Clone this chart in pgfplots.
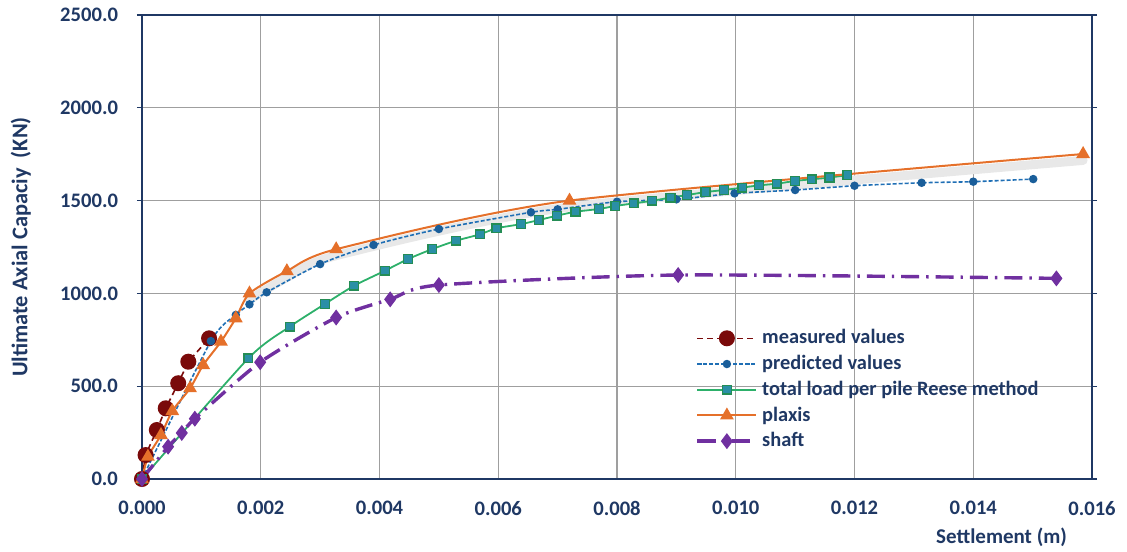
\documentclass[border=0pt]{standalone}
\usepackage{fontspec}
\setmainfont{Carlito}
\usepackage{pgfplots}
\pgfplotsset{compat=1.18}
\definecolor{navy}{HTML}{1F3864}
\definecolor{meas}{HTML}{7A0A0A}
\definecolor{pred}{HTML}{1F6FB5}
\definecolor{reese}{HTML}{2DB06A}
\definecolor{reesefill}{HTML}{2A8FA6}
\definecolor{plaxis}{HTML}{E5702A}
\definecolor{shaft}{HTML}{7030A0}
\begin{document}
\begin{tikzpicture}
\useasboundingbox (-71pt,-36pt) rectangle (492.5pt,239.5pt);
\begin{axis}[
  at={(0,0)}, anchor=south west,
  scale only axis, width=475pt, height=232pt,
  xmin=0, xmax=0.016, ymin=0, ymax=2500,
  xtick={0,0.002,...,0.016}, ytick={0,500,...,2500},
  scaled x ticks=false,
  xticklabel style={/pgf/number format/fixed, /pgf/number format/fixed zerofill, /pgf/number format/precision=3, /pgf/number format/assume math mode=true, yshift=-5pt},
  yticklabel style={/pgf/number format/fixed, /pgf/number format/fixed zerofill, /pgf/number format/precision=1, /pgf/number format/1000 sep={}, /pgf/number format/assume math mode=true, xshift=-6pt},
  tick label style={font=\bfseries\fontsize{10.3}{12}\selectfont, text=navy},
  grid=major, major grid style={draw=gray!75, line width=0.6pt},
  axis line style={draw=navy, line width=0.8pt},
  tick align=outside, major tick length=2.5pt,
  xtick style={draw=none}, ytick style={draw=navy, line width=0.6pt},
  xlabel={Settlement (m)}, ylabel={Ultimate Axial Capaciy\ \ (KN)},
  label style={font=\bfseries\fontsize{10.5}{12}\selectfont, text=navy},
  xlabel style={at={(rel axis cs:1,0)}, anchor=north east, yshift=-21pt, xshift=-9pt},
  ylabel style={at={(rel axis cs:0,0.5)}, yshift=52pt, anchor=south, font=\bfseries\fontsize{11.2}{13}\selectfont},
  legend style={at={(rel axis cs:0.576,0.34)}, anchor=north west, draw=none, fill=none,
    font=\bfseries\fontsize{10.2}{12}\selectfont, text=navy, row sep=0.2pt,
    /tikz/every even column/.append style={column sep=2pt}},
  legend cell align=left,
  legend image code/.code={
    \draw[mark repeat=2,mark phase=2] plot coordinates {(0cm,0cm) (0.52cm,0cm) (1.04cm,0cm)};},
]
\addplot[black!9, line width=4.5pt, yshift=-3.2pt, smooth, tension=0.4, forget plot, line cap=round]
 coordinates {(0.00181,1000) (0.00244,1120) (0.00327,1238) (0.0072,1500) (0.01585,1751)};
\addplot[meas, line width=0.8pt, dash pattern=on 3pt off 2pt, mark=*, mark size=3.6pt,
  mark options={solid, fill=meas, draw=meas}]
 coordinates {(0,0) (0.00006,129) (0.00025,264) (0.0004,381) (0.00061,516) (0.00078,632) (0.00113,758)};
\addlegendentry{measured values}
\addplot[pred, line width=0.8pt, dash pattern=on 2pt off 1pt, smooth, tension=0.4, mark=*, mark size=1.7pt,
  mark options={solid, fill=pred!85!black, draw=pred!85!black}]
 coordinates {(0,0) (0.00116,743) (0.00158,884) (0.00181,941) (0.0021,1006) (0.003,1158) (0.0039,1261) (0.005,1347) (0.00655,1437) (0.007,1453) (0.008,1494) (0.009,1507) (0.00998,1539) (0.011,1557) (0.012,1580) (0.01313,1596) (0.014,1602) (0.01501,1616)};
\addlegendentry{predicted values}
\addplot[reese, line width=0.9pt, smooth, tension=0.4, mark=square*, mark size=2.2pt,
  mark options={solid, fill=reesefill, draw=reese!80!black, line width=0.7pt}]
 coordinates {(0,0) (0.00179,650) (0.00249,821) (0.00308,943) (0.00357,1041) (0.00409,1122) (0.00448,1185) (0.00489,1239) (0.00529,1284) (0.00569,1318) (0.00597,1351) (0.00638,1373) (0.00668,1395) (0.00699,1419) (0.0073,1440) (0.0077,1455) (0.00797,1471) (0.00828,1485) (0.00859,1499) (0.0089,1516) (0.00918,1530) (0.00949,1546) (0.0098,1557) (0.01011,1570) (0.01039,1582) (0.01069,1591) (0.011,1606) (0.01128,1615) (0.01158,1624) (0.01188,1638)};
\addlegendentry{total load per pile Reese method}
\addplot[plaxis, line width=1pt, smooth, tension=0.4, mark=triangle*, mark size=3pt,
  mark options={solid, fill=plaxis, draw=plaxis}]
 coordinates {(0,0) (0.0001,120) (0.00032,237) (0.00051,366) (0.00081,489) (0.00103,614) (0.00133,740) (0.00158,866) (0.00181,1000) (0.00244,1120) (0.00327,1238) (0.0072,1500) (0.01585,1751)};
\addlegendentry{plaxis}
\addplot[shaft, line width=1.7pt, dash pattern=on 9pt off 3.5pt on 1.2pt off 3.5pt, smooth, tension=0.4, mark=diamond*, mark size=3.6pt,
  mark options={solid, fill=shaft, draw=shaft, line width=0.5pt}]
 coordinates {(0,0) (0.00044,174) (0.00067,248) (0.00089,325) (0.00199,629) (0.00327,870) (0.00418,968) (0.005,1045) (0.00903,1099) (0.0154,1081)};
\addlegendentry{shaft}
\end{axis}
\end{tikzpicture}
\end{document}
